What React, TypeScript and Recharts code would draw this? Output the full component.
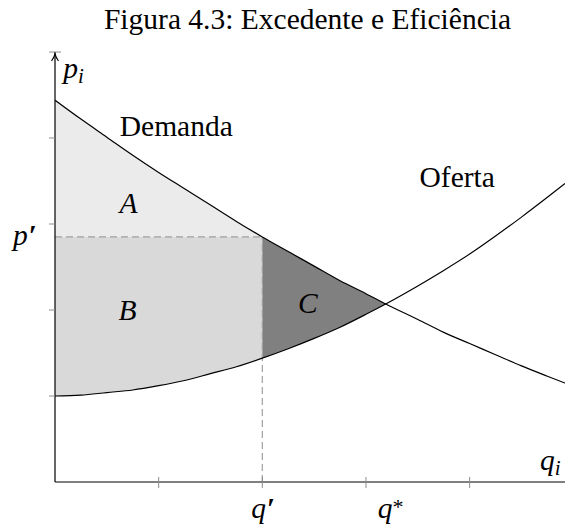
import React from 'react';
import { ComposedChart, Area, Line, XAxis, YAxis, ReferenceLine, Scatter } from 'recharts';

const TITLE = 'Figura 4.3: Excedente e Eficiência';

const quantities = [0, 0.25, 0.5, 0.75, 1, 1.25, 1.5, 1.75, 2, 2.25, 2.5, 2.75, 3, 3.19, 3.5, 3.75, 4, 4.25, 4.5, 4.75, 4.92];
const demand = [4.44, 4.22, 4.01, 3.8, 3.6, 3.41, 3.22, 3.03, 2.85, 2.68, 2.51, 2.34, 2.19, 2.07, 1.89, 1.74, 1.61, 1.48, 1.35, 1.23, 1.15];
const supply = [1.0, 1.01, 1.04, 1.07, 1.12, 1.18, 1.26, 1.34, 1.44, 1.55, 1.67, 1.8, 1.95, 2.07, 2.28, 2.46, 2.65, 2.86, 3.08, 3.31, 3.47];

const qPrime = 2;
const pPrime = 2.85;
const qStar = 3.19;
const qMax = 4.92;
const pMax = 5;

const xTicks = [1, 2, 3, 3.19, 4];
const xMarkTicks = [1, 2, 3, 4];
const yTicks = [1, 2, 2.85, 3, 4, 5];
const yMarkTicks = [1, 2, 3, 4, 5];
const xTickLabels: Record<string, { base: string; sup: string }> = { '2': { base: 'q', sup: '′' }, '3.19': { base: 'q', sup: '*' } };
const yTickLabels: Record<string, { base: string; sup: string }> = { '2.85': { base: 'p', sup: '′' } };

const labels = [
  { q: 1.17, p: 4.02, text: 'Demanda', sub: '', italic: false, anchor: 'middle' },
  { q: 3.88, p: 3.43, text: 'Oferta', sub: '', italic: false, anchor: 'middle' },
  { q: 0.71, p: 3.13, text: 'A', sub: '', italic: true, anchor: 'middle' },
  { q: 0.7, p: 1.88, text: 'B', sub: '', italic: true, anchor: 'middle' },
  { q: 2.44, p: 1.965, text: 'C', sub: '', italic: true, anchor: 'middle' },
  { q: 0.08, p: 4.7, text: 'p', sub: 'i', italic: true, anchor: 'start' },
  { q: 4.68, p: 0.14, text: 'q', sub: 'i', italic: true, anchor: 'start' },
];

const FONT = '"Liberation Serif", "DejaVu Serif", serif';
const FS = 29.5;

const rows = quantities.map((q, i) => ({
  q,
  d: demand[i],
  s: supply[i],
  A: q <= qPrime ? [pPrime, demand[i]] : null,
  B: q <= qPrime ? [supply[i], pPrime] : null,
  C: q >= qPrime && q <= qStar ? [supply[i], demand[i]] : null,
}));

const Mark = ({ base, sup, x, y, anchor }: any) => (
  <text x={x} y={y} textAnchor={anchor} fontFamily={FONT} fontSize={FS} fontStyle="italic" fill="#000">
    {base}
    {sup === '*' ? (
      <tspan fontStyle="normal" fontSize={22} dy={-4}>{sup}</tspan>
    ) : (
      <tspan fontStyle="normal" fontSize={FS} fontWeight="bold" dy={0} dx={1}>{sup}</tspan>
    )}
  </text>
);

const XTick = (props: any) => {
  const { x, y, payload } = props;
  const v = payload.value;
  const lab = xTickLabels[String(v)];
  return (
    <g>
      {xMarkTicks.includes(v) && <line x1={x} x2={x} y1={y - 5} y2={y + 6} stroke="#8c8c8c" strokeWidth={1} />}
      {lab && <Mark base={lab.base} sup={lab.sup} x={v === qStar ? x + 5 : x + 1} y={y + 36} anchor="middle" />}
    </g>
  );
};

const YTick = (props: any) => {
  const { x, y, payload } = props;
  const v = payload.value;
  const lab = yTickLabels[String(v)];
  return (
    <g>
      {yMarkTicks.includes(v) && (
        <line x1={x - 6} x2={v === pMax ? x + 6 : x} y1={y} y2={y} stroke="#8c8c8c" strokeWidth={1} />
      )}
      {v === pMax && (
        <path
          d={`M${x - 3.5},${y + 9} Q${x - 0.8},${y + 5} ${x},${y + 2} Q${x + 0.8},${y + 5} ${x + 3.5},${y + 9}`}
          fill="none"
          stroke="#000"
          strokeWidth={1.1}
        />
      )}
      {lab && <Mark base={lab.base} sup={lab.sup} x={x - 42} y={y + 8} anchor="start" />}
    </g>
  );
};

const LabelShape = (props: any) => {
  const { cx, cy, payload } = props;
  return (
    <text
      x={cx}
      y={cy}
      textAnchor={payload.anchor}
      fontFamily={FONT}
      fontSize={FS}
      fontStyle={payload.italic ? 'italic' : 'normal'}
      fill="#000"
    >
      {payload.text}
      {payload.sub && (
        <tspan fontSize={21} dy={5}>
          {payload.sub}
        </tspan>
      )}
    </text>
  );
};

export default function App() {
  return (
    <div style={{ position: 'absolute', left: 0, top: 0, width: 565, height: 526, background: '#fff' }}>
      <div
        style={{
          position: 'absolute',
          left: 0,
          top: 2,
          width: 615,
          textAlign: 'center',
          fontFamily: FONT,
          fontSize: FS,
          lineHeight: '34px',
          color: '#000',
          whiteSpace: 'nowrap',
        }}
      >
        {TITLE}
      </div>
      <ComposedChart width={565} height={526} data={rows} margin={{ top: 52, right: 0, bottom: 14, left: 15 }}>
        <XAxis
          type="number"
          dataKey="q"
          domain={[0, qMax]}
          ticks={xTicks}
          interval={0}
          tick={XTick}
          tickLine={false}
          tickSize={0}
          tickMargin={0}
          height={30}
          axisLine={{ stroke: '#000', strokeWidth: 1.2 }}
          allowDataOverflow
        />
        <YAxis
          type="number"
          domain={[0, pMax]}
          ticks={yTicks}
          interval={0}
          tick={YTick}
          tickLine={false}
          tickSize={0}
          tickMargin={0}
          width={40}
          axisLine={{ stroke: '#000', strokeWidth: 1.2 }}
          allowDataOverflow
        />
        <Area dataKey="A" type="monotone" fill="#ebebeb" fillOpacity={1} stroke="none" isAnimationActive={false} activeDot={false} />
        <Area dataKey="B" type="monotone" fill="#d9d9d9" fillOpacity={1} stroke="none" isAnimationActive={false} activeDot={false} />
        <Area dataKey="C" type="monotone" fill="#808080" fillOpacity={1} stroke="none" isAnimationActive={false} activeDot={false} />
        <ReferenceLine
          segment={[{ x: 0, y: pPrime }, { x: qPrime, y: pPrime }]}
          stroke="#a0a0a0"
          strokeWidth={1.2}
          strokeDasharray="7 4"
        />
        <ReferenceLine
          segment={[{ x: qPrime, y: 0 }, { x: qPrime, y: pPrime }]}
          stroke="#a0a0a0"
          strokeWidth={1.2}
          strokeDasharray="7 4"
        />
        <Line dataKey="d" type="monotone" stroke="#000" strokeWidth={1.2} dot={false} activeDot={false} isAnimationActive={false} />
        <Line dataKey="s" type="monotone" stroke="#000" strokeWidth={1.2} dot={false} activeDot={false} isAnimationActive={false} />
        <Scatter data={labels} dataKey="p" shape={LabelShape} isAnimationActive={false} />
      </ComposedChart>
    </div>
  );
}
